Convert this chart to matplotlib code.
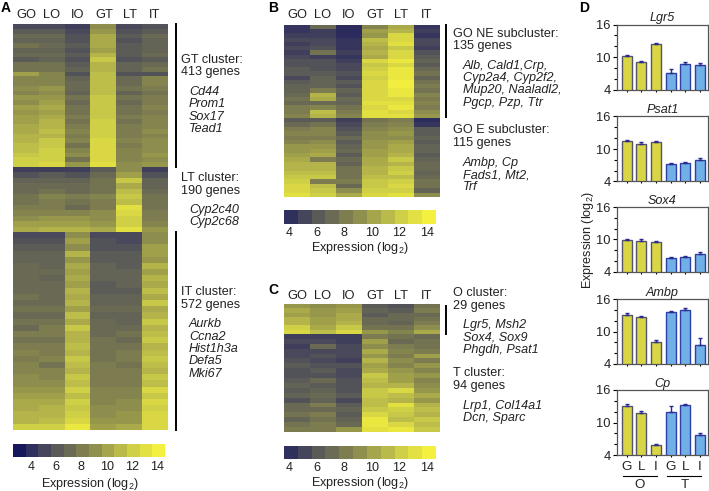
import matplotlib
matplotlib.use('Agg')
import matplotlib.pyplot as plt
from matplotlib.colors import LinearSegmentedColormap
import numpy as np

W, H = 709, 491
plt.rcParams['font.family'] = ['Liberation Sans', 'DejaVu Sans']
plt.rcParams['mathtext.fontset'] = 'custom'
plt.rcParams['mathtext.rm'] = 'Liberation Sans'

columns = ['GO', 'LO', 'IO', 'GT', 'LT', 'IT']
scale_colors = ['#17175c', '#30305f', '#45455c', '#5a5a58', '#6a6a55', '#7d7d50',
                '#90904e', '#a5a54b', '#baba4a', '#cfcf48', '#e2e042', '#f3f03f']
scale_ticks = [4, 6, 8, 10, 12, 14]

# heatmap rows, columns GO LO IO GT LT IT
a_gt = [
    [5.0, 5.0, 4.5, 9.0, 5.0, 5.5], [6.0, 6.0, 5.0, 9.5, 5.5, 6.0], [7.0, 7.0, 5.5, 10.5, 6.0, 7.0],
    [6.5, 6.5, 5.5, 10.5, 5.5, 6.5], [7.5, 7.0, 6.0, 10.5, 6.0, 6.5], [6.5, 6.5, 5.5, 10.0, 6.0, 6.5],
    [7.0, 7.0, 6.0, 11.0, 6.0, 7.0], [6.0, 6.5, 5.5, 12.0, 5.5, 6.0], [7.5, 7.5, 6.0, 11.0, 6.5, 7.0],
    [7.5, 7.5, 6.5, 11.0, 6.5, 7.5], [10.0, 8.5, 5.5, 11.5, 5.5, 5.5], [8.5, 8.5, 6.5, 11.5, 7.0, 8.5],
    [8.5, 8.5, 7.0, 11.5, 7.0, 8.5], [9.0, 9.5, 7.0, 11.5, 7.5, 8.0], [8.5, 9.0, 6.5, 11.5, 6.5, 7.5],
    [9.5, 9.5, 7.5, 12.0, 7.5, 8.0], [9.0, 10.0, 7.0, 12.0, 7.0, 8.0], [10.0, 10.5, 7.5, 12.0, 7.5, 8.5],
    [9.5, 10.0, 7.5, 12.0, 7.5, 8.0], [10.0, 10.5, 8.0, 12.0, 8.0, 8.5], [10.0, 11.0, 7.5, 12.5, 7.5, 8.5],
    [10.5, 11.0, 8.0, 12.5, 8.0, 8.5], [10.5, 11.5, 8.5, 12.5, 8.0, 9.0], [11.0, 11.0, 8.0, 12.5, 8.0, 8.5],
    [11.0, 12.0, 8.5, 13.0, 8.5, 9.0], [11.5, 12.0, 7.5, 13.0, 8.0, 9.0], [11.5, 12.5, 8.5, 13.0, 8.5, 9.0],
    [12.0, 12.5, 9.0, 13.0, 8.5, 9.5], [12.5, 12.5, 7.5, 13.0, 8.5, 9.0], [12.5, 13.0, 9.5, 13.5, 9.0, 9.5],
]
a_lt = [
    [4.5, 4.5, 4.5, 6.0, 9.0, 4.5], [5.5, 6.0, 5.5, 7.0, 10.0, 5.5], [6.5, 6.5, 6.5, 7.5, 12.0, 6.5],
    [7.0, 7.0, 7.0, 7.5, 10.5, 6.5], [7.0, 7.5, 7.0, 7.5, 11.5, 7.0], [7.5, 8.5, 8.0, 8.5, 12.0, 7.5],
    [7.5, 8.0, 7.5, 8.0, 11.5, 7.5], [8.0, 8.0, 7.0, 8.0, 13.5, 7.5], [8.5, 8.5, 8.5, 9.0, 13.0, 8.0],
    [9.0, 9.5, 9.5, 9.0, 12.5, 8.0], [10.0, 10.0, 10.0, 9.5, 12.5, 8.5], [10.5, 11.0, 11.0, 10.5, 13.5, 9.5],
]
a_it = [
    [5.0, 5.0, 9.0, 5.0, 5.0, 9.0], [5.5, 5.5, 10.0, 5.5, 5.0, 9.0], [6.0, 6.0, 9.0, 5.5, 5.5, 10.0],
    [6.5, 6.5, 11.0, 6.0, 6.0, 10.0], [6.5, 6.5, 9.5, 6.0, 6.0, 9.5], [7.0, 6.5, 10.5, 6.5, 6.0, 11.0],
    [7.0, 7.0, 10.0, 6.5, 6.5, 10.0], [7.0, 6.5, 10.5, 6.5, 6.5, 11.0], [7.0, 7.0, 10.0, 6.0, 6.5, 10.5],
    [7.0, 7.0, 11.0, 6.0, 6.0, 11.5], [7.5, 7.0, 10.5, 6.5, 6.5, 10.5], [7.0, 7.0, 11.0, 6.5, 6.5, 12.0],
    [7.5, 7.5, 10.0, 7.0, 7.0, 10.5], [7.0, 7.0, 11.5, 6.5, 6.5, 11.0], [7.5, 7.5, 10.5, 7.0, 6.5, 12.0],
    [7.0, 8.0, 12.0, 7.0, 7.0, 11.0], [8.0, 8.0, 11.0, 7.0, 7.5, 11.5], [7.5, 7.5, 11.0, 7.5, 7.0, 12.0],
    [8.0, 8.0, 11.5, 7.5, 7.5, 11.0], [8.5, 8.0, 11.0, 7.5, 8.0, 11.5], [8.0, 8.5, 12.0, 7.5, 8.0, 12.0],
    [8.5, 7.5, 11.5, 8.0, 7.5, 11.5], [8.5, 8.5, 11.0, 8.0, 8.0, 11.0], [9.0, 8.5, 12.0, 8.0, 8.0, 12.0],
    [9.0, 9.0, 11.5, 8.0, 8.0, 11.5], [9.5, 9.5, 12.5, 8.5, 8.5, 13.0], [10.0, 10.0, 11.5, 8.5, 8.5, 12.0],
    [10.5, 10.5, 12.5, 8.5, 9.0, 13.0], [10.5, 11.0, 12.0, 9.0, 9.0, 12.5], [11.0, 11.0, 12.5, 9.0, 9.5, 13.0],
    [11.0, 11.5, 13.0, 9.5, 9.5, 13.0], [12.5, 12.5, 14.0, 10.0, 10.5, 13.0],
]
b_ne = [
    [4.0, 7.0, 3.5, 8.5, 10.5, 4.0], [4.0, 4.5, 3.5, 10.0, 11.0, 4.5], [4.5, 4.5, 3.5, 9.5, 13.0, 4.0],
    [5.0, 5.0, 4.0, 11.5, 13.0, 5.0], [4.5, 5.0, 4.0, 11.0, 13.5, 5.0], [5.0, 5.5, 4.0, 10.5, 12.0, 4.5],
    [4.5, 7.5, 4.5, 11.0, 13.0, 5.5], [5.0, 4.5, 4.0, 10.5, 13.0, 6.0], [5.5, 5.5, 4.5, 13.0, 14.0, 6.5],
    [5.5, 5.5, 5.0, 12.0, 13.0, 6.0], [6.0, 5.5, 5.0, 12.5, 14.0, 7.0], [6.0, 6.0, 5.5, 13.0, 14.0, 7.5],
    [5.0, 6.5, 5.0, 12.5, 14.0, 6.5], [6.0, 6.5, 6.0, 13.0, 14.5, 7.5], [6.5, 6.5, 5.5, 13.0, 14.5, 8.0],
    [6.5, 8.0, 6.5, 13.0, 14.0, 7.5], [7.0, 11.0, 6.0, 13.0, 14.0, 8.5], [7.5, 10.5, 7.0, 13.0, 13.0, 8.0],
    [7.0, 7.0, 6.5, 13.5, 13.5, 8.5], [8.0, 8.5, 7.5, 13.0, 14.0, 8.0], [8.0, 11.5, 8.0, 13.5, 13.0, 9.0],
    [8.5, 11.0, 8.5, 13.5, 13.5, 9.5],
]
b_e = [
    [6.0, 6.0, 4.5, 7.5, 8.0, 3.5], [7.0, 7.5, 5.0, 8.0, 8.5, 4.0], [8.0, 8.5, 5.5, 8.5, 9.0, 6.0],
    [8.5, 8.5, 6.0, 9.0, 9.5, 6.0], [8.0, 8.0, 7.0, 9.0, 9.0, 6.5], [8.5, 9.0, 6.0, 9.5, 10.0, 6.0],
    [9.5, 9.5, 6.5, 9.5, 10.5, 6.5], [9.5, 10.0, 7.0, 10.0, 10.5, 6.5], [10.0, 10.5, 6.0, 10.0, 11.0, 6.0],
    [10.5, 8.0, 7.0, 10.5, 12.0, 6.5], [11.0, 11.0, 6.5, 10.5, 11.0, 7.0], [11.0, 11.0, 7.5, 11.0, 12.0, 7.0],
    [11.5, 11.5, 7.5, 11.0, 12.5, 6.5], [12.0, 12.0, 7.5, 11.5, 11.5, 7.0], [12.5, 8.0, 8.0, 12.0, 12.5, 7.5],
    [13.0, 11.5, 7.0, 12.0, 13.0, 7.5], [13.0, 12.0, 9.0, 12.5, 12.5, 6.5], [13.5, 12.5, 10.5, 13.0, 13.5, 9.0],
]
c_o = [
    [9.5, 9.0, 9.5, 6.0, 5.5, 7.5], [10.5, 9.5, 10.0, 6.5, 6.0, 8.0], [10.0, 9.5, 10.5, 6.0, 7.0, 7.0],
    [11.0, 10.0, 10.5, 7.0, 7.0, 7.5], [11.0, 10.0, 11.0, 7.0, 6.5, 8.0], [12.5, 10.5, 12.0, 7.5, 7.5, 9.0],
    [13.0, 11.5, 13.0, 9.5, 8.5, 10.5],
]
c_t = [
    [4.5, 4.5, 4.5, 8.0, 7.5, 7.0], [5.0, 5.0, 4.5, 10.0, 7.0, 7.5], [4.5, 7.0, 5.0, 9.0, 8.0, 7.5],
    [5.0, 5.0, 5.0, 10.5, 8.5, 8.0], [5.0, 5.5, 5.0, 9.5, 8.0, 10.0], [5.5, 5.0, 4.5, 11.0, 9.0, 8.0],
    [6.0, 5.5, 5.5, 10.0, 8.5, 9.5], [5.5, 6.0, 5.0, 10.5, 9.5, 8.5], [5.5, 5.5, 5.0, 12.0, 10.0, 9.5],
    [6.0, 7.0, 5.5, 11.5, 10.0, 8.5], [6.5, 6.0, 5.5, 11.0, 11.0, 9.0], [6.0, 6.5, 5.5, 12.0, 13.0, 9.5],
    [6.5, 7.0, 6.0, 12.0, 11.5, 10.5], [5.5, 6.5, 5.0, 11.5, 11.0, 9.5], [7.0, 8.0, 6.0, 11.5, 13.5, 11.0],
    [7.0, 7.0, 6.5, 12.0, 12.5, 11.5], [7.5, 8.0, 6.0, 13.0, 12.0, 11.0], [6.5, 7.5, 6.5, 14.0, 11.5, 12.0],
    [7.5, 8.0, 7.0, 14.0, 13.0, 11.5], [8.0, 8.0, 9.5, 13.5, 14.0, 12.0],
]

# bar panel, order G L I G L I
genes = ['Lgr5', 'Psat1', 'Sox4', 'Ambp', 'Cp']
lgr5 = [10.2, 9.0, 12.4, 7.05, 8.75, 8.6]
lgr5_err = [0.25, 0.3, 0.25, 0.8, 0.3, 0.3]
psat1 = [11.4, 11.0, 11.3, 7.2, 7.35, 8.05]
psat1_err = [0.25, 0.3, 0.25, 0.25, 0.25, 0.3]
sox4 = [9.9, 9.8, 9.5, 6.5, 6.7, 7.3]
sox4_err = [0.25, 0.25, 0.3, 0.25, 0.25, 0.3]
ambp = [13.1, 12.6, 8.05, 13.6, 14.0, 7.6]
ambp_err = [0.3, 0.3, 0.3, 0.2, 0.3, 1.2]
cp = [13.05, 11.7, 5.8, 12.0, 13.2, 7.75]
cp_err = [0.3, 0.35, 0.3, 1.0, 0.25, 0.3]
bar_labels = ['G', 'L', 'I', 'G', 'L', 'I']

cmap = LinearSegmentedColormap.from_list('expr', scale_colors)
fig = plt.figure(figsize=(W / 100, H / 100), dpi=100)


def px_axes(x0, y0, x1, y1):
    return fig.add_axes([x0 / W, 1 - y1 / H, (x1 - x0) / W, (y1 - y0) / H])


def put(x, y, s, size=9.1, color='#222222', **kw):
    fig.text(x / W, 1 - y / H, s, fontsize=size, color=color, va='center', **kw)


def vline(x, y0, y1):
    fig.add_artist(plt.Line2D([x / W, x / W], [1 - y0 / H, 1 - y1 / H], color='black', lw=1.4))


def hline(x0, x1, y):
    fig.add_artist(plt.Line2D([x0 / W, x1 / W], [1 - y / H, 1 - y / H], color='black', lw=0.8))


def heat_block(rows, x0, y0, x1, y1):
    ax = px_axes(x0, y0, x1, y1)
    ax.imshow(np.array(rows), cmap=cmap, vmin=2.6, vmax=14.6, aspect='auto', interpolation='nearest')
    ax.axis('off')


def color_scale(x0, y0, x1, y1, n_cells, first_val, label_y, tick_y):
    ax = px_axes(x0, y0, x1, y1)
    cells = np.arange(n_cells)[np.newaxis, :]
    ax.imshow(cells, cmap=LinearSegmentedColormap.from_list('s', scale_colors[-n_cells:], N=n_cells),
              aspect='auto', extent=[first_val, first_val + n_cells, 0, 1])
    ax.axis('off')
    for t in scale_ticks:
        tx = x0 + (t - first_val) / n_cells * (x1 - x0)
        put(tx, tick_y, str(t), ha='center')
    put((x0 + x1) / 2 + 1, label_y, 'Expression (log$_2$)', ha='center')


def column_labels(xs, y):
    for name, x in zip(columns, xs):
        put(x, y, name, ha='center', size=9.3)


# panel A
heat_block(a_gt, 13, 24, 168, 167)
heat_block(a_lt, 13, 167, 168, 232)
heat_block(a_it, 13, 232, 168, 430)
column_labels([26, 52, 78, 104, 130, 155], 15)
color_scale(13, 444, 165, 457, 12, 2.6, 484, 467)
vline(175.5, 24, 167)
vline(175.5, 232, 430)
put(181, 60, 'GT cluster:')
put(181, 72, '413 genes')
for y, s in zip([92, 104, 117, 129], ['Cd44', 'Prom1', 'Sox17', 'Tead1']):
    put(189, y, s, style='italic')
put(181, 178, 'LT cluster:')
put(181, 191, '190 genes')
for y, s in zip([210, 222], ['Cyp2c40', 'Cyp2c68']):
    put(189, y, s, style='italic')
put(181, 292, 'IT cluster:')
put(181, 305, '572 genes')
for y, s in zip([324, 337, 349, 361, 374], ['Aurkb', 'Ccna2', 'Hist1h3a', 'Defa5', 'Mki67']):
    put(189, y, s, style='italic')

# panel B
heat_block(b_ne, 283.5, 25, 439, 118)
heat_block(b_e, 283.5, 118, 439, 197)
column_labels([297, 323, 349, 375, 401, 427], 15)
color_scale(283.5, 210, 435, 224, 11, 3.6, 248, 233)
vline(446, 25, 117)
put(453, 34, 'GO NE subcluster:')
put(453, 46, '135 genes')
for y, s in zip([66, 78, 90, 103], ['Alb, Cald1,Crp,', 'Cyp2a4, Cyp2f2,', 'Mup20, Naaladl2,', 'Pgcp, Pzp, Ttr']):
    put(463, y, s, style='italic')
put(453, 130, 'GO E subcluster:')
put(453, 143, '115 genes')
for y, s in zip([163, 175, 187], ['Ambp, Cp', 'Fads1, Mt2,', 'Trf']):
    put(463, y, s, style='italic')

# panel C
heat_block(c_o, 283.5, 304, 439, 334)
heat_block(c_t, 283.5, 334, 439, 432)
column_labels([297, 323, 349, 375, 401, 427], 296)
color_scale(283.5, 446, 435, 459, 11, 3.6, 483, 468)
vline(446, 306, 334)
put(453, 293, 'O cluster:')
put(453, 306, '29 genes')
for y, s in zip([325, 338, 350], ['Lgr5, Msh2', 'Sox4, Sox9', 'Phgdh, Psat1']):
    put(463, y, s, style='italic')
put(453, 373, 'T cluster:')
put(453, 386, '94 genes')
for y, s in zip([406, 418], ['Lrp1, Col14a1', 'Dcn, Sparc']):
    put(463, y, s, style='italic')

# panel D
tops = [24.5, 116.5, 207, 299, 390]
series = [(lgr5, lgr5_err), (psat1, psat1_err), (sox4, sox4_err), (ambp, ambp_err), (cp, cp_err)]
face = ['#d9d645'] * 3 + ['#70b0e6'] * 3
edge = ['#55556a'] * 3 + ['#2f3fa5'] * 3
for gene, top, (vals, errs) in zip(genes, tops, series):
    ax = px_axes(617, top, 708, top + 65)
    ax.bar(range(6), vals, width=0.68, color=face, edgecolor=edge, linewidth=1.0)
    ax.errorbar(range(6), vals, yerr=[np.zeros(6), errs], fmt='none', ecolor='#2a2a90', elinewidth=1.0,
                capsize=1.5, capthick=1.0)
    ax.set_xlim(-0.66, 5.545)
    ax.set_ylim(4, 16)
    ax.set_yticks([4, 10, 16])
    ax.set_yticks([6, 8, 12, 14], minor=True)
    ax.tick_params(axis='y', which='major', length=3, width=0.8, labelsize=9.3, pad=1.5, labelcolor='#222222')
    ax.tick_params(axis='y', which='minor', length=2, width=0.8)
    ax.set_xticks(range(6))
    ax.tick_params(axis='x', length=1.5, width=0.8, labelbottom=False)
    for sp in ax.spines.values():
        sp.set_color('#555555')
        sp.set_linewidth(0.9)
    ax.set_title(gene, style='italic', fontsize=9.1, pad=2.5, color='#222222')

for x, s in zip([626.7, 641.3, 656, 670.7, 685.3, 700], bar_labels):
    put(x, 467, s, ha='center', size=9.6)
hline(623, 657, 476)
hline(667, 701, 476)
put(640, 485, 'O', ha='center', size=9.6)
put(685, 485, 'T', ha='center', size=9.6)
put(588, 240, 'Expression (log$_2$)', ha='center', rotation=90)

# panel letters
for x, y, s in [(1, 8, 'A'), (268, 8, 'B'), (268, 290, 'C'), (579, 8, 'D')]:
    put(x, y, s, size=10, color='black', weight='bold')

fig.savefig('out.png', dpi=100)
